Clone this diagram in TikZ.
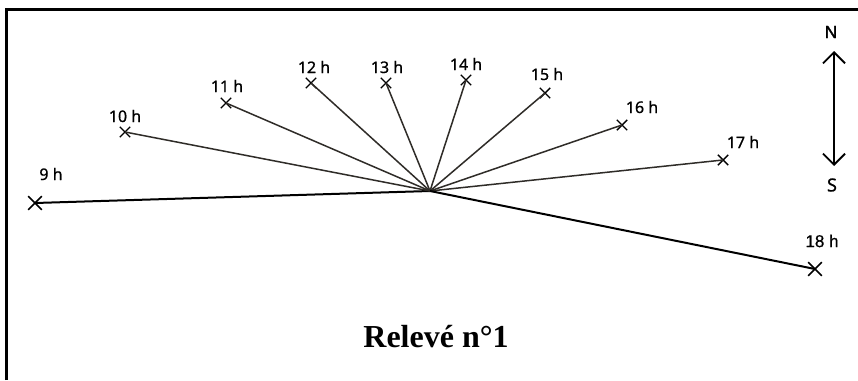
\documentclass[tikz,border=0pt]{standalone}
\usepackage{fontspec}
\setmainfont{Liberation Serif}
\newfontfamily\lblfont[FakeBold=0.8]{Noto Sans}
\newfontfamily\nfont[FakeBold=2]{Noto Sans}
\newfontfamily\arialfont[FakeBold=0.6]{Liberation Sans}
\usetikzlibrary{shapes.misc,arrows.meta}
\begin{document}
\begin{tikzpicture}[x=1pt,y=-1pt,
  crossmark/.style={draw,cross out,minimum size=9pt,inner sep=0pt,line width=1.4pt},
  bigcross/.style={draw,cross out,minimum size=12pt,inner sep=0pt,line width=1.6pt},
  ray/.style={line width=1.5pt,black!88!olive},
  mainray/.style={line width=2pt,black},
  hlabel/.style={font=\lblfont\fontsize{16}{18}\selectfont,inner sep=0pt},
  title/.style={font=\bfseries\fontsize{32}{36}\selectfont,inner sep=0pt}]
\useasboundingbox (0,0) rectangle (858,380);
\fill[white] (0,0) rectangle (858,380);
% frame (top and left only)
\draw[line width=2.5pt] (6.5,380) -- (6.5,9.3) -- (858,9.3);
% centre
\coordinate (O) at (430,191);
% crosses
\node[bigcross] (h9) at (35,203) {};
\node[crossmark] (h10) at (125,132) {};
\node[crossmark] (h11) at (226,103) {};
\node[crossmark] (h12) at (311,83) {};
\node[crossmark] (h13) at (386,83) {};
\node[crossmark] (h14) at (466,80) {};
\node[crossmark] (h15) at (545,93) {};
\node[crossmark] (h16) at (622,125) {};
\node[crossmark] (h17) at (723,160) {};
\node[bigcross] (h18) at (815,269) {};
% rays
\draw[mainray] (O) -- (h9.center);
\foreach \n in {10,11,12,13,14,15,16,17}{\draw[ray] (O) -- (h\n.center);}
\draw[mainray] (O) -- (h18.center);
% labels
\node[hlabel] (l9) at (51,174) {9 h};
\node[hlabel] (l10) at (125,116) {10 h};
\node[hlabel] (l11) at (227,86) {11 h};
\node[hlabel] (l12) at (314,67) {12 h};
\node[hlabel] (l13) at (387,67) {13 h};
\node[hlabel] (l14) at (466,64) {14 h};
\node[hlabel] (l15) at (547,74) {15 h};
\node[hlabel] (l16) at (642,107) {16 h};
\node[hlabel] (l17) at (743,142) {17 h};
\node[font=\arialfont\fontsize{17}{19}\selectfont,inner sep=0pt] (l18) at (822,241) {18 h};
% compass
\node[font=\nfont\fontsize{17}{19}\selectfont,inner sep=0pt] (N) at (831,32) {N};
\node[font=\lblfont\fontsize{18}{20}\selectfont,inner sep=0pt] (S) at (832,185) {S};
\coordinate (Ntip) at (834,51);
\coordinate (Stip) at (834,166);
\draw[line width=1.9pt,{Straight Barb[length=11pt,width=22pt]}-{Straight Barb[length=11pt,width=22pt]}] (Ntip) -- (Stip);
% title
\node[title] (t) at (436,337) {Relevé n°1};
\end{tikzpicture}
\end{document}
